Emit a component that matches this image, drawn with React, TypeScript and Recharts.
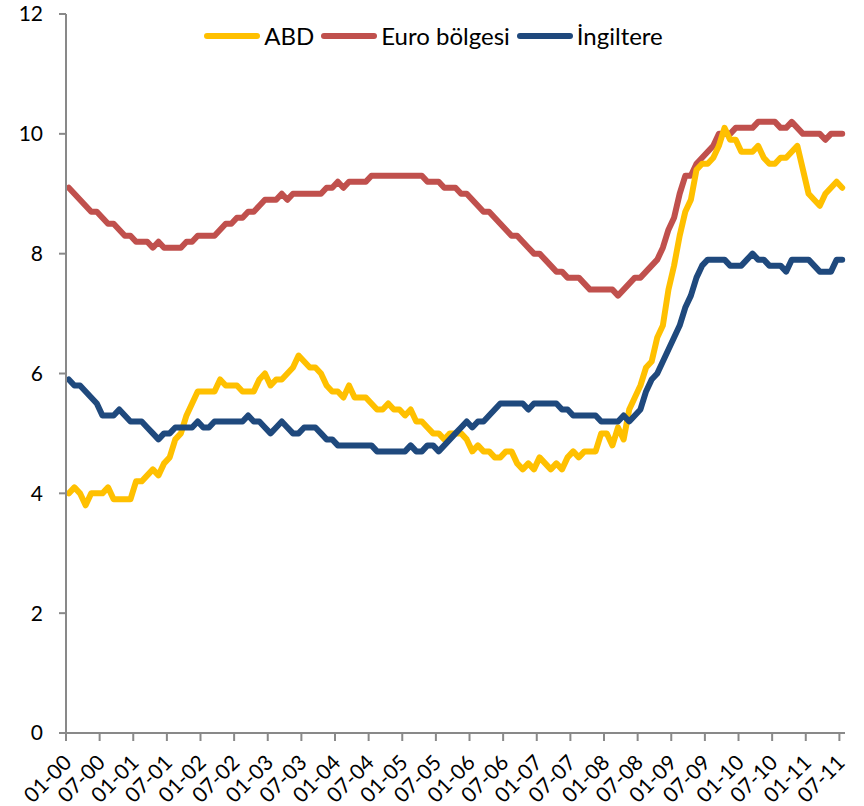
import React from 'react';
import { LineChart, Line, XAxis, YAxis } from 'recharts';

// ---- categories (month-year labels, 01-00 ... 07-11) ----
const YEARS = ['00', '01', '02', '03', '04', '05', '06', '07', '08', '09', '10', '11'];
const MONTHS = ['01', '02', '03', '04', '05', '06', '07', '08', '09', '10', '11', '12'];
const MONTHS_IN_LAST_YEAR = 7;
const CATEGORIES: string[] = YEARS.flatMap((y, yi) =>
  (yi === YEARS.length - 1 ? MONTHS.slice(0, MONTHS_IN_LAST_YEAR) : MONTHS).map((m) => `${m}-${y}`)
);

// ---- series values (unemployment rate, %) ----
const ABD: number[] = [
  4.0, 4.1, 4.0, 3.8, 4.0, 4.0, 4.0, 4.1, 3.9, 3.9, 3.9, 3.9,
  4.2, 4.2, 4.3, 4.4, 4.3, 4.5, 4.6, 4.9, 5.0, 5.3, 5.5, 5.7,
  5.7, 5.7, 5.7, 5.9, 5.8, 5.8, 5.8, 5.7, 5.7, 5.7, 5.9, 6.0,
  5.8, 5.9, 5.9, 6.0, 6.1, 6.3, 6.2, 6.1, 6.1, 6.0, 5.8, 5.7,
  5.7, 5.6, 5.8, 5.6, 5.6, 5.6, 5.5, 5.4, 5.4, 5.5, 5.4, 5.4,
  5.3, 5.4, 5.2, 5.2, 5.1, 5.0, 5.0, 4.9, 5.0, 5.0, 5.0, 4.9,
  4.7, 4.8, 4.7, 4.7, 4.6, 4.6, 4.7, 4.7, 4.5, 4.4, 4.5, 4.4,
  4.6, 4.5, 4.4, 4.5, 4.4, 4.6, 4.7, 4.6, 4.7, 4.7, 4.7, 5.0,
  5.0, 4.8, 5.1, 4.9, 5.4, 5.6, 5.8, 6.1, 6.2, 6.6, 6.8, 7.4,
  7.8, 8.3, 8.7, 8.9, 9.4, 9.5, 9.5, 9.6, 9.8, 10.1, 9.9, 9.9,
  9.7, 9.7, 9.7, 9.8, 9.6, 9.5, 9.5, 9.6, 9.6, 9.7, 9.8, 9.4,
  9.0, 8.9, 8.8, 9.0, 9.1, 9.2, 9.1,
];

const EURO: number[] = [
  9.1, 9.0, 8.9, 8.8, 8.7, 8.7, 8.6, 8.5, 8.5, 8.4, 8.3, 8.3,
  8.2, 8.2, 8.2, 8.1, 8.2, 8.1, 8.1, 8.1, 8.1, 8.2, 8.2, 8.3,
  8.3, 8.3, 8.3, 8.4, 8.5, 8.5, 8.6, 8.6, 8.7, 8.7, 8.8, 8.9,
  8.9, 8.9, 9.0, 8.9, 9.0, 9.0, 9.0, 9.0, 9.0, 9.0, 9.1, 9.1,
  9.2, 9.1, 9.2, 9.2, 9.2, 9.2, 9.3, 9.3, 9.3, 9.3, 9.3, 9.3,
  9.3, 9.3, 9.3, 9.3, 9.2, 9.2, 9.2, 9.1, 9.1, 9.1, 9.0, 9.0,
  8.9, 8.8, 8.7, 8.7, 8.6, 8.5, 8.4, 8.3, 8.3, 8.2, 8.1, 8.0,
  8.0, 7.9, 7.8, 7.7, 7.7, 7.6, 7.6, 7.6, 7.5, 7.4, 7.4, 7.4,
  7.4, 7.4, 7.3, 7.4, 7.5, 7.6, 7.6, 7.7, 7.8, 7.9, 8.1, 8.4,
  8.6, 9.0, 9.3, 9.3, 9.5, 9.6, 9.7, 9.8, 10.0, 10.0, 10.0, 10.1,
  10.1, 10.1, 10.1, 10.2, 10.2, 10.2, 10.2, 10.1, 10.1, 10.2, 10.1, 10.0,
  10.0, 10.0, 10.0, 9.9, 10.0, 10.0, 10.0,
];

const INGILTERE: number[] = [
  5.9, 5.8, 5.8, 5.7, 5.6, 5.5, 5.3, 5.3, 5.3, 5.4, 5.3, 5.2,
  5.2, 5.2, 5.1, 5.0, 4.9, 5.0, 5.0, 5.1, 5.1, 5.1, 5.1, 5.2,
  5.1, 5.1, 5.2, 5.2, 5.2, 5.2, 5.2, 5.2, 5.3, 5.2, 5.2, 5.1,
  5.0, 5.1, 5.2, 5.1, 5.0, 5.0, 5.1, 5.1, 5.1, 5.0, 4.9, 4.9,
  4.8, 4.8, 4.8, 4.8, 4.8, 4.8, 4.8, 4.7, 4.7, 4.7, 4.7, 4.7,
  4.7, 4.8, 4.7, 4.7, 4.8, 4.8, 4.7, 4.8, 4.9, 5.0, 5.1, 5.2,
  5.1, 5.2, 5.2, 5.3, 5.4, 5.5, 5.5, 5.5, 5.5, 5.5, 5.4, 5.5,
  5.5, 5.5, 5.5, 5.5, 5.4, 5.4, 5.3, 5.3, 5.3, 5.3, 5.3, 5.2,
  5.2, 5.2, 5.2, 5.3, 5.2, 5.3, 5.4, 5.7, 5.9, 6.0, 6.2, 6.4,
  6.6, 6.8, 7.1, 7.3, 7.6, 7.8, 7.9, 7.9, 7.9, 7.9, 7.8, 7.8,
  7.8, 7.9, 8.0, 7.9, 7.9, 7.8, 7.8, 7.8, 7.7, 7.9, 7.9, 7.9,
  7.9, 7.8, 7.7, 7.7, 7.7, 7.9, 7.9,
];

const Y_TICKS = [0, 2, 4, 6, 8, 10, 12];

const SERIES = [
  { key: 'abd', name: 'ABD', color: '#FFC000' },
  { key: 'euro', name: 'Euro bölgesi', color: '#C0504D' },
  { key: 'uk', name: 'İngiltere', color: '#1F497D' },
];
// drawing order (bottom to top)
const DRAW_ORDER = ['euro', 'abd', 'uk'];

const data = CATEGORIES.map((label, i) => ({
  label,
  abd: ABD[i],
  euro: EURO[i],
  uk: INGILTERE[i],
}));

// ---- layout ----
const W = 864;
const H = 806;
const MARGIN = { top: 14, right: 19, left: 0, bottom: 13 };
const Y_AXIS_W = 66;
const X_AXIS_H = 60;
const PLOT_W = W - MARGIN.left - MARGIN.right - Y_AXIS_W;
const HALF_STEP = PLOT_W / CATEGORIES.length / 2;
const FONT = 'Lato, "Open Sans", sans-serif';
const AXIS_COLOR = '#898989';
const X_TICK_SIZE = 8;

const XTick = (props: any) => {
  const { x, y, payload } = props;
  const axisY = y - X_TICK_SIZE;
  return (
    <g>
      <line
        x1={x - HALF_STEP}
        x2={x - HALF_STEP}
        y1={axisY}
        y2={axisY + X_TICK_SIZE}
        stroke={AXIS_COLOR}
        strokeWidth={2}
      />
      <text
        transform={`translate(${x + 4},${axisY + 31}) rotate(-45)`}
        textAnchor="end"
        fontSize={21}
        fontFamily={FONT}
        fill="#000"
      >
        {payload.value}
      </text>
    </g>
  );
};

const LegendOverlay = () => (
  <div
    style={{
      position: 'absolute',
      top: 23,
      left: 0,
      width: 874,
      height: 26,
      display: 'flex',
      justifyContent: 'center',
      alignItems: 'center',
      fontFamily: FONT,
      fontSize: 24,
      lineHeight: '26px',
      color: '#000',
      pointerEvents: 'none',
    }}
  >
    {SERIES.map((s) => (
      <div key={s.key} style={{ display: 'flex', alignItems: 'center', marginRight: 7 }}>
        <svg width={56} height={8} style={{ display: 'block' }}>
          <line x1={3} x2={53} y1={4} y2={4} stroke={s.color} strokeWidth={6} strokeLinecap="round" />
        </svg>
        <span style={{ marginLeft: 4, whiteSpace: 'nowrap' }}>{s.name}</span>
      </div>
    ))}
  </div>
);

export default function App() {
  return (
    <div style={{ position: 'absolute', left: 0, top: 0, width: W, height: H, background: '#fff' }}>
      <LineChart width={W} height={H} data={data} margin={MARGIN}>
        <XAxis
          dataKey="label"
          interval={5}
          height={X_AXIS_H}
          padding={{ left: HALF_STEP, right: HALF_STEP }}
          axisLine={{ stroke: AXIS_COLOR, strokeWidth: 2 }}
          tickLine={false}
          tickSize={X_TICK_SIZE}
          tickMargin={0}
          tick={<XTick />}
        />
        <YAxis
          type="number"
          domain={[0, 12]}
          ticks={Y_TICKS}
          interval={0}
          width={Y_AXIS_W}
          axisLine={{ stroke: AXIS_COLOR, strokeWidth: 2 }}
          tickLine={{ stroke: AXIS_COLOR, strokeWidth: 2 }}
          tickSize={7}
          tickMargin={16}
          tick={{ fill: '#000', fontSize: 21, fontFamily: FONT }}
        />
        {DRAW_ORDER.map((k) => {
          const s = SERIES.find((x) => x.key === k)!;
          return (
            <Line
              key={s.key}
              type="linear"
              dataKey={s.key}
              name={s.name}
              stroke={s.color}
              strokeWidth={6}
              strokeLinecap="round"
              strokeLinejoin="round"
              dot={false}
              activeDot={false}
              isAnimationActive={false}
            />
          );
        })}
      </LineChart>
      <LegendOverlay />
    </div>
  );
}
